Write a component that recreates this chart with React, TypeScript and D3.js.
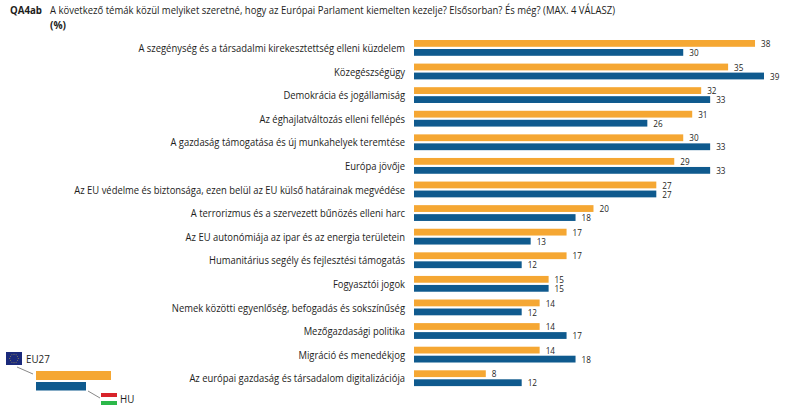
import React from "react";
import * as d3 from "d3";

const categories = [
  "A szegénység és a társadalmi kirekesztettség elleni küzdelem",
  "Közegészségügy",
  "Demokrácia és jogállamiság",
  "Az éghajlatváltozás elleni fellépés",
  "A gazdaság támogatása és új munkahelyek teremtése",
  "Európa jövője",
  "Az EU védelme és biztonsága, ezen belül az EU külső határainak megvédése",
  "A terrorizmus és a szervezett bűnözés elleni harc",
  "Az EU autonómiája az ipar és az energia területein",
  "Humanitárius segély és fejlesztési támogatás",
  "Fogyasztói jogok",
  "Nemek közötti egyenlőség, befogadás és sokszínűség",
  "Mezőgazdasági politika",
  "Migráció és menedékjog",
  "Az európai gazdaság és társadalom digitalizációja",
];
const eu27 = [38, 35, 32, 31, 30, 29, 27, 20, 17, 17, 15, 14, 14, 14, 8];
const hu = [30, 39, 33, 26, 33, 33, 27, 18, 13, 12, 15, 12, 17, 18, 12];
const questionCode = "QA4ab";
const questionText = "A következő témák közül melyiket szeretné, hogy az Európai Parlament kiemelten kezelje? Elsősorban? És még? (MAX. 4 VÁLASZ)";
const unitText = "(%)";

const ORANGE = "#f5a733";
const BLUE = "#0f5a8e";
const INK = "#1d1d1b";
const FONT = "'Open Sans', 'Noto Sans', sans-serif";

const x = d3.scaleLinear().domain([0, 39]).range([414, 764]);
const y = d3.scaleLinear().domain([0, categories.length - 1]).range([40, 370.3]);
const BAR_H = 6.8;
const BLUE_OFFSET = 9;

function T({ x: tx, y: ty, size, sx = 0.89, anchor = "start", weight = 400, children }: any) {
  return (
    <text transform={`translate(${tx},${ty}) scale(${sx},1)`} fontSize={size} textAnchor={anchor} fontWeight={weight} fill={INK}>
      {children}
    </text>
  );
}

function Stars() {
  const pts = d3.range(12).map((i) => {
    const a = (i / 12) * 2 * Math.PI;
    return [14 + 4.2 * Math.cos(a), 358.5 + 4.2 * Math.sin(a)];
  });
  return <>{pts.map((p, i) => <circle key={i} cx={p[0]} cy={p[1]} r={0.45} fill="#f4d63a" />)}</>;
}

export default function App() {
  return (
    <svg width={808} height={408} style={{ position: "absolute", left: 0, top: 0, background: "#fff" }} fontFamily={FONT}>
      <text x={10} y={14} fontSize={10.6} fontWeight={700} fill={INK} textLength={32} lengthAdjust="spacingAndGlyphs">{questionCode}</text>
      <text x={50} y={14} fontSize={10.6} fill={INK} textLength={565} lengthAdjust="spacingAndGlyphs">{questionText}</text>
      <text x={50} y={29} fontSize={10.6} fontWeight={700} fill={INK} textLength={16} lengthAdjust="spacingAndGlyphs">{unitText}</text>

      {categories.map((c, i) => (
        <g key={c}>
          <T x={405} y={y(i) + 12} size={10.6} anchor="end">{c}</T>
          <rect x={x(0)} y={y(i)} width={x(eu27[i]) - x(0)} height={BAR_H} fill={ORANGE} />
          <rect x={x(0)} y={y(i) + BLUE_OFFSET} width={x(hu[i]) - x(0)} height={BAR_H} fill={BLUE} />
          <T x={x(eu27[i]) + 6} y={y(i) + 7} size={9.6} sx={0.85}>{eu27[i]}</T>
          <T x={x(hu[i]) + 6} y={y(i) + BLUE_OFFSET + 7} size={9.6} sx={0.85}>{hu[i]}</T>
        </g>
      ))}

      <rect x={6} y={352} width={16} height={13} fill="#1b2a7b" />
      <Stars />
      <T x={26} y={363} size={11}>EU27</T>
      <line x1={17} y1={367} x2={33} y2={374} stroke="#555" strokeWidth={0.7} />
      <rect x={36} y={371} width={75} height={9} fill={ORANGE} />
      <rect x={36} y={382} width={50} height={8.5} fill={BLUE} />
      <line x1={88} y1={391} x2={100} y2={398} stroke="#555" strokeWidth={0.7} />
      <rect x={101} y={393} width={16} height={4} fill="#d8232a" />
      <rect x={101} y={401} width={16} height={4} fill="#2cb84a" />
      <T x={120} y={403} size={11}>HU</T>
    </svg>
  );
}
